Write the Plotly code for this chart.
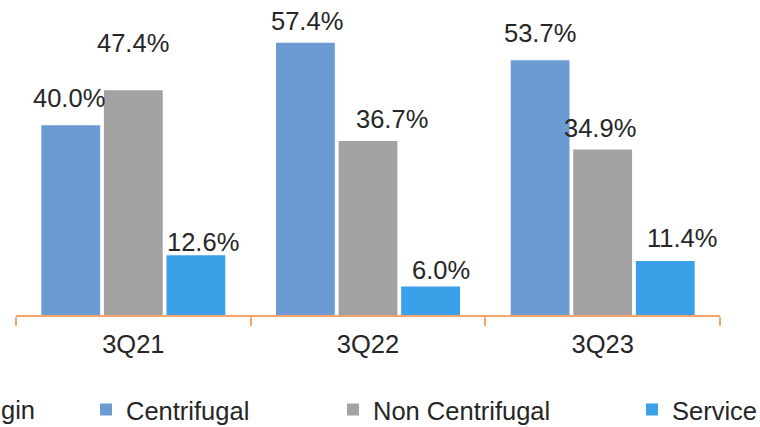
import plotly.graph_objects as go

categories = ["3Q21", "3Q22", "3Q23"]
centrifugal = [40.0, 57.4, 53.7]
non_centrifugal = [47.4, 36.7, 34.9]
service = [12.6, 6.0, 11.4]
series_names = ["Centrifugal", "Non Centrifugal", "Service"]
series_values = [centrifugal, non_centrifugal, service]
legend_title_tail = "gin"  # visible remainder of the cropped left legend text

# styles (not data)
colors = ["#6C9BD4", "#A1A2A1", "#3AA0E8"]
label_dx = [[-2, 2, 0], [0, 24, -3], [7, 10, 17]]
label_dy = [[27, 22, 27], [47, 22, 21], [13, 17, 23]]
FONT = "Arial, Liberation Sans, sans-serif"
FS = 25.5
W, H = 760, 427
ML, MR, MT, MB = 16, 40, 0, 112
BARGAP, BARGROUPGAP = 0.2, 0.06
YMAX = 66.4

fig = go.Figure()
legend_ids = ["legend", "legend2", "legend3"]
for j, (name, vals) in enumerate(zip(series_names, series_values)):
    fig.add_trace(go.Bar(
        x=categories, y=vals, name=name, marker_color=colors[j],
        marker_line_width=0, legend=legend_ids[j], showlegend=True,
        hoverinfo="skip"))

slot = (1 - BARGAP) / 3
for j, vals in enumerate(series_values):
    for i, v in enumerate(vals):
        fig.add_annotation(
            x=i + (j - 1) * slot, y=v, xref="x", yref="y",
            text=f"{v:.1f}%", showarrow=False,
            xanchor="center", yanchor="middle",
            xshift=label_dx[j][i], yshift=label_dy[j][i],
            font=dict(family=FONT, size=FS, color="#262626"))

pw = W - ML - MR
ph = H - MT - MB
def px2paper(px):
    return (px - ML) / pw

ly = (H - 410 - MB) / ph
fig.add_annotation(
    x=px2paper(-1), y=ly, xref="paper", yref="paper",
    text=legend_title_tail, showarrow=False, xanchor="left", yanchor="middle",
    font=dict(family=FONT, size=FS, color="#262626"))

leg_common = dict(orientation="h", yanchor="middle", xanchor="left",
                  font=dict(family=FONT, size=FS, color="#262626"),
                  bgcolor="rgba(0,0,0,0)", borderwidth=0, itemwidth=30,
                  visible=True)
fig.update_layout(
    showlegend=True,
    legend=dict(x=px2paper(86), y=ly, **leg_common),
    legend2=dict(x=px2paper(333), y=ly, **leg_common),
    legend3=dict(x=px2paper(632), y=ly, **leg_common),
)

fig.update_layout(
    width=W, height=H, barmode="group", bargap=BARGAP, bargroupgap=BARGROUPGAP,
    margin=dict(l=ML, r=MR, t=MT, b=MB, autoexpand=False),
    plot_bgcolor="white", paper_bgcolor="white",
    xaxis=dict(showline=True, linecolor="#F4A36C", linewidth=1.5,
               ticks="outside", ticklen=9, tickwidth=1.5, tickcolor="#F4A36C",
               tickson="boundaries", showgrid=False, range=[-0.5, 2.5],
               ticklabelstandoff=6,
               tickfont=dict(family=FONT, size=FS, color="#262626")),
    yaxis=dict(visible=False, range=[0, YMAX], showgrid=False, zeroline=False),
)

fig.write_html("out.html", config={"displayModeBar": False},
               post_script="document.body.style.margin='0';document.body.style.overflow='hidden';")
